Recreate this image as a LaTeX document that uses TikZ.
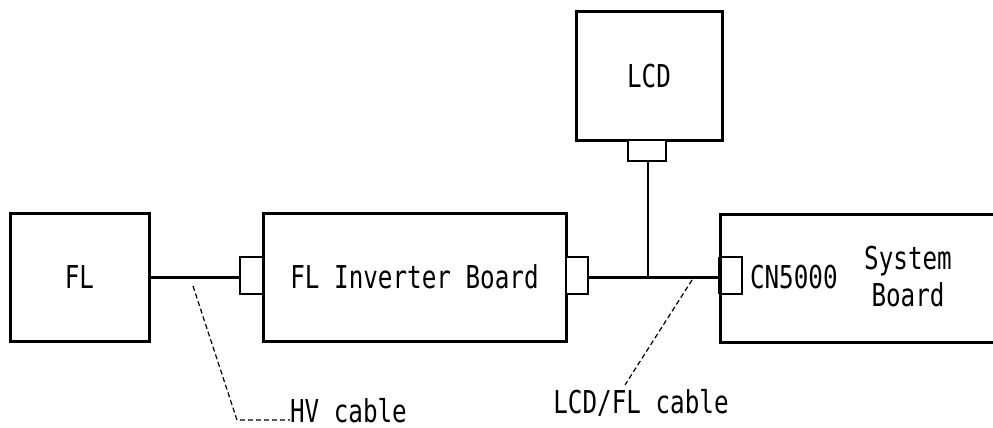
\documentclass[tikz,border=0pt]{standalone}
\usepackage{fontspec}
\newfontfamily\gfont[FakeStretch=0.77]{DejaVu Sans Mono}
\begin{document}
\begin{tikzpicture}[x=1pt,y=-1pt,
  every node/.style={font=\gfont\fontsize{31.5}{37}\selectfont, inner sep=0pt, outer sep=0pt},
  board/.style={draw, line width=3pt, minimum width=#1, minimum height=128pt},
  conn/.style={draw, line width=1.2pt, fill=white},
  cable/.style={line width=3pt},
  thinline/.style={line width=1.2pt},
  leader/.style={line width=1.2pt, dash pattern=on 5pt off 3pt}]
\useasboundingbox (0,0) rectangle (993,428);
% boards
\node[board=139pt] (fl) at (79.5,277) {FL};
\node[board=303pt] (inv) at (414.5,277) {FL Inverter Board};
\node[board=146pt] (lcd) at (649,76) {LCD};
\node[board=290pt] (sys) at (865,278) {};
\node[align=center] (systxt) at (908,277) {System\\Board};
% connectors
\node[conn, minimum width=23pt, minimum height=37pt] (c1) at (251.5,275.5) {};
\node[conn, minimum width=22pt, minimum height=37pt] (c2) at (577,275.5) {};
\node[conn, minimum width=22pt, minimum height=37pt] (c3) at (731,275.5) {};
\node[conn, minimum width=38pt, minimum height=21pt] (c4) at (647,150.5) {};
\draw[line width=4.5pt] (c3.north west) -- (c3.south west);
\node[anchor=west] (cn) at (750,277) {CN5000};
% cables
\draw[cable] (fl.east |- 0,277) -- (c1.west |- 0,277);
\coordinate (j) at (648,277);
\draw[cable] (c2.east |- 0,277) -- (c3.west |- 0,277);
\draw[thinline] (c4.south -| j) -- (j);
% leaders
\node[anchor=base west] (hv) at (290,422) {HV cable};
\coordinate (hvp) at (193,286);
\coordinate (hvk) at (237,420);
\draw[leader] (hvp) -- (hvk) -- (hv.west |- hvk);
\node (lf) at (641,403) {LCD/FL cable};
\coordinate (lfp) at (692,280);
\draw[leader] (lfp) -- (625,385);
\end{tikzpicture}
\end{document}
